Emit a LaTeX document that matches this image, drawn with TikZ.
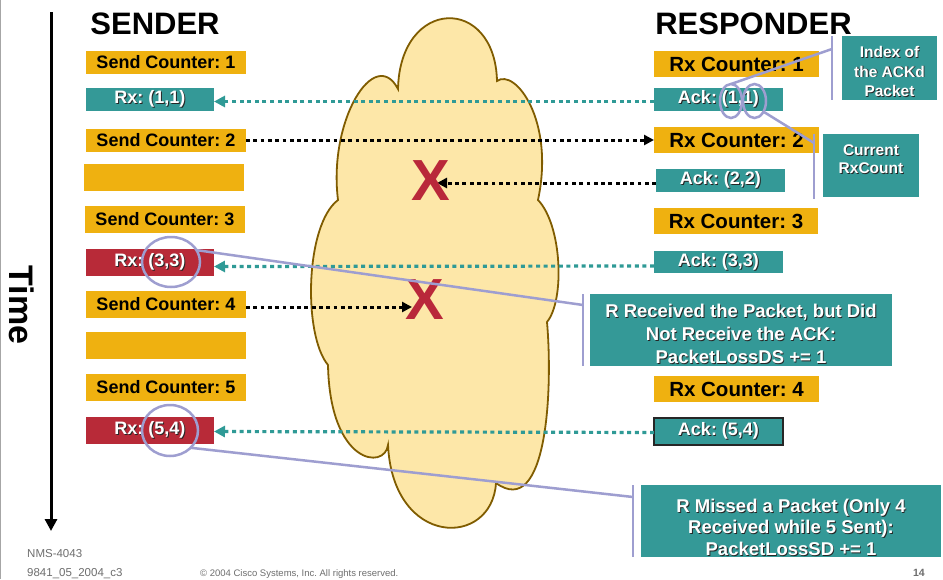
\documentclass[tikz,border=0pt]{standalone}
\usepackage{fontspec}
\setmainfont{Liberation Sans}
\frenchspacing
\usetikzlibrary{arrows.meta,calc,shapes.geometric}
\definecolor{orng}{RGB}{239,177,16}
\definecolor{tealb}{RGB}{52,153,151}
\definecolor{redb}{RGB}{184,42,56}
\definecolor{lav}{RGB}{158,158,208}
\definecolor{cloudfill}{RGB}{253,231,168}
\definecolor{cloudline}{RGB}{128,92,0}
\definecolor{arrteal}{RGB}{47,154,150}
\definecolor{xred}{RGB}{185,40,58}
\definecolor{foot}{RGB}{110,110,110}
\newcommand\shd[1]{\leavevmode\rlap{\kern0.9pt\raisebox{-0.9pt}{\color{black!85}#1}}#1}
\tikzset{
  bx/.style={inner sep=0pt, outer sep=0pt, font=\bfseries\fontsize{18}{21}\selectfont},
  obox/.style={bx, fill=orng, text=black},
  robox/.style={obox, font=\bfseries\fontsize{20.5}{23}\selectfont},
  tbox/.style={bx, fill=tealb, text=white},
  rbox/.style={bx, fill=redb, text=white},
  call/.style={fill=tealb, inner sep=0pt, outer sep=0pt},
  calltxt/.style={text=white, inner sep=0pt, align=center},
  tdot/.style={draw=arrteal, line width=3.2pt, dash pattern=on 4pt off 3.6pt, -{Triangle[length=11pt,width=11pt]}},
  kdot/.style={draw=black, line width=3pt, dash pattern=on 3.8pt off 3.5pt, -{Triangle[length=10pt,width=10pt]}},
  lavl/.style={draw=lav, line width=2.5pt},
  ring/.style={draw=lav, line width=2.5pt, ellipse, inner sep=0pt, outer sep=0pt},
  xmark/.style={text=xred, inner sep=0pt, font=\bfseries\fontsize{58}{58}\selectfont},
  head/.style={inner sep=0pt, font=\bfseries\fontsize{31}{31}\selectfont},
  foottxt/.style={inner sep=0pt, text=foot}
}
\begin{document}
\begin{tikzpicture}[x=1pt,y=-1pt]
\useasboundingbox (0,0) rectangle (943,579);
\fill[white] (0,0) rectangle (943,579);
\draw[gray!70, line width=1.2pt] (0.6,0) -- (0.6,579);

% time axis
\coordinate (tA) at (51,12);
\coordinate (tB) at (51,531);
\draw[line width=3pt, -{Triangle[length=12pt,width=12pt]}] (tA) -- (tB);
\node[rotate=-90, inner sep=0pt, font=\bfseries\fontsize{34}{34}\selectfont] (time) at (21.5,305) {Time};

% headers
\node[head] (sender) at (155,24) {SENDER};
\node[head] (responder) at (753.5,24) {RESPONDER};

% cloud
\filldraw[fill=cloudfill, draw=cloudline, line width=1.8pt]
 (398,89) .. controls (400,-3) and (495,-5) .. (497,81)
 .. controls (515,68) and (555,120) .. (538,200)
 .. controls (562,225) and (565,300) .. (547,322)
 .. controls (553,390) and (547,520) .. (496,483)
 .. controls (492,548) and (393,548) .. (388,445)
 .. controls (385,470) and (330,465) .. (328,365)
 .. controls (303,335) and (305,225) .. (338,200)
 .. controls (328,120) and (375,45) .. (398,89) -- cycle;

% sender boxes
\node[obox, minimum width=160pt, minimum height=23pt] (s1) at (166,62.5) {Send Counter: 1};
\node[tbox, minimum width=128pt, minimum height=23pt] (r1) at (150,99.5) {\shd{Rx: (1,1)}};
\node[obox, minimum width=160pt, minimum height=23pt] (s2) at (166,140) {Send Counter: 2};
\node[obox, minimum width=160pt, minimum height=27pt] (g1) at (164,177.5) {};
\node[obox, minimum width=160pt, minimum height=27pt] (s3) at (165,219.5) {Send Counter: 3};
\node[rbox, minimum width=128pt, minimum height=27pt] (r3) at (150,262.5) {\shd{Rx: (3,3)}};
\node[obox, minimum width=160pt, minimum height=27pt] (s4) at (166,304.5) {Send Counter: 4};
\node[obox, minimum width=160pt, minimum height=27pt] (g2) at (166,345.5) {};
\node[obox, minimum width=160pt, minimum height=27pt] (s5) at (166,387.5) {Send Counter: 5};
\node[rbox, minimum width=128pt, minimum height=27pt] (r5) at (150,430.5) {\shd{Rx: (5,4)}};

% responder boxes
\node[robox, minimum width=165pt, minimum height=26pt] (rc1) at (736.5,64) {Rx Counter: 1};
\node[tbox, minimum width=129pt, minimum height=23pt] (a1) at (718.5,99.5) {\shd{Ack: (1,1)}};
\node[robox, minimum width=165pt, minimum height=26pt] (rc2) at (736.5,140) {Rx Counter: 2};
\node[tbox, minimum width=129pt, minimum height=23pt] (a2) at (720.5,180.5) {\shd{Ack: (2,2)}};
\node[robox, minimum width=164pt, minimum height=26pt] (rc3) at (736,221) {Rx Counter: 3};
\node[tbox, minimum width=129pt, minimum height=22pt] (a3) at (718.5,262) {\shd{Ack: (3,3)}};
\node[robox, minimum width=165pt, minimum height=26pt] (rc4) at (736.5,389) {Rx Counter: 4};
\node[tbox, draw=black!85, line width=1.2pt, minimum width=129pt, minimum height=27pt] (a5) at (718.5,431.5) {\shd{Ack: (5,4)}};

% arrows
\coordinate (x1tip) at (437,183);
\coordinate (x2tip) at (412,307);
\draw[tdot] ($(a1.west)+(0,2)$) -- ($(r1.east)+(0,2)$);
\draw[tdot] ($(a3.west)+(0,4)$) -- ($(r3.east)+(0,4)$);
\draw[tdot] ($(a5.west)+(0,1)$) -- ($(r5.east)+(0,1)$);
\draw[kdot] (s2.east) -- (rc2.west);
\draw[kdot] (a2.west |- x1tip) -- (x1tip);
\draw[kdot] (s4.east |- x2tip) -- (x2tip);

% X marks
\node[xmark] (xa) at (430.5,180.5) {X};
\node[xmark] (xb) at (425,300) {X};

% callout boxes
\node[call, minimum width=95pt, minimum height=64pt] (cb1) at (889.5,68) {};
\node[calltxt, font=\bfseries\fontsize{15.5}{19.5}\selectfont] (cb1t) at (889.5,72) {\shd{Index of}\\\shd{the ACKd}\\\shd{Packet}};
\node[call, minimum width=96pt, minimum height=63pt] (cb2) at (871,165.5) {};
\node[calltxt, font=\bfseries\fontsize{15.5}{18}\selectfont] (cb2t) at (871,159.5) {\shd{Current}\\\shd{RxCount}};
\node[call, minimum width=302pt, minimum height=72pt] (cb3) at (741,330) {};
\node[calltxt, font=\bfseries\fontsize{18.5}{23}\selectfont] (cb3t) at (741,334.5) {\shd{R Received the Packet, but Did}\\\shd{Not Receive the ACK:}\\\shd{PacketLossDS += 1}};
\node[call, minimum width=300pt, minimum height=72pt] (cb4) at (791,521) {};
\node[calltxt, font=\bfseries\fontsize{18.5}{21.5}\selectfont] (cb4t) at (791,527.5) {\shd{R Missed a Packet (Only 4}\\\shd{Received while 5 Sent):}\\\shd{PacketLossSD += 1}};

% rings
\node[ring, minimum width=22pt, minimum height=34pt] (e1) at (731,101) {};
\node[ring, minimum width=23pt, minimum height=34pt] (e2) at (754.5,101) {};
\node[ring, minimum width=58pt, minimum height=50pt] (c3) at (171,262) {};
\node[ring, minimum width=56pt, minimum height=51pt] (c5) at (170,430.5) {};

% brackets and leader lines
\coordinate (b1t) at (832,36); \coordinate (b1b) at (832,100); \coordinate (b1j) at (832,49);
\coordinate (b2t) at (814,134); \coordinate (b2b) at (814,199); \coordinate (b2j) at (814,143);
\coordinate (b3t) at (583,294); \coordinate (b3b) at (583,366); \coordinate (b3j) at (583,305);
\coordinate (b4t) at (633,485); \coordinate (b4b) at (633,557); \coordinate (b4j) at (633,497);
\draw[lavl] (b1t) -- (b1b);
\draw[lavl] (b2t) -- (b2b);
\draw[lavl] (b3t) -- (b3b);
\draw[lavl] (b4t) -- (b4b);
\draw[lavl] (b1j) -- (e1.north);
\draw[lavl] (e2.-50) -- (b2j);
\draw[lavl] (c3.25) -- (b3j);
\draw[lavl] (c5.-40) -- (b4j);

% footer
\node[foottxt, anchor=base west, font=\fontsize{11.5}{12}\selectfont] (f1) at (27,557) {NMS-4043};
\node[foottxt, anchor=base west, font=\fontsize{11.5}{12}\selectfont] (f2) at (27,576) {9841\_05\_2004\_c3};
\node[foottxt, anchor=base west, font=\fontsize{9.5}{10}\selectfont] (f3) at (200,576) {© 2004 Cisco Systems, Inc. All rights reserved.};
\node[foottxt, anchor=base east, font=\bfseries\fontsize{10.5}{11}\selectfont] (f4) at (925,576) {14};
\end{tikzpicture}
\end{document}
